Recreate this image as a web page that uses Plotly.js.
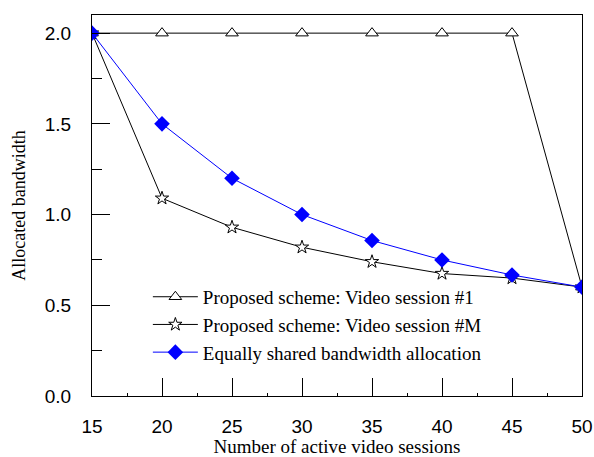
<!DOCTYPE html>
<html>
<head>
<meta charset="utf-8">
<script src="https://cdn.plot.ly/plotly-3.0.1.min.js"></script>
<style>html,body{margin:0;padding:0;background:#fff;}#chart{width:594px;height:457px;}</style>
</head>
<body>
<div id="chart"></div>
<script>
const sessions = [15, 20, 25, 30, 35, 40, 45, 50];
const session1 = [2.0, 2.0, 2.0, 2.0, 2.0, 2.0, 2.0, 0.6];
const sessionM = [2.0, 1.09, 0.93, 0.82, 0.74, 0.675, 0.65, 0.6];
const equalShare = [2.0, 1.5, 1.2, 1.0, 0.857, 0.75, 0.667, 0.6];
const seriesNames = [
  'Proposed scheme: Video session #1',
  'Proposed scheme: Video session #M',
  'Equally shared bandwidth allocation'
];
const xTicks = [15, 20, 25, 30, 35, 40, 45, 50];
const yTicks = [0.0, 0.5, 1.0, 1.5, 2.0];
const yTickLabels = ['0.0', '0.5', '1.0', '1.5', '2.0'];

const SERIF = "'Liberation Serif', 'Times New Roman', serif";
const SANS = "'Liberation Sans', Arial, sans-serif";

const traces = [
  {x: sessions, y: session1, name: seriesNames[0], mode: 'lines+markers',
   line: {color: '#000', width: 1},
   marker: {symbol: 'triangle-up', size: 11, color: '#fff', line: {width: 1, color: '#000'}}},
  {x: sessions, y: sessionM, name: seriesNames[1], mode: 'lines+markers',
   line: {color: '#000', width: 1},
   marker: {symbol: 'star', size: 10, color: '#fff', line: {width: 1, color: '#000'}}},
  {x: sessions, y: equalShare, name: seriesNames[2], mode: 'lines+markers',
   line: {color: '#0000ff', width: 1},
   marker: {symbol: 'diamond', size: 12, color: '#0000ff'}}
];

const layout = {
  width: 594, height: 457,
  margin: {l: 92, r: 12, t: 15, b: 61},
  paper_bgcolor: '#fff', plot_bgcolor: '#fff',
  showlegend: true,
  legend: {x: 0.114, y: 0.31, xanchor: 'left', yanchor: 'top', bgcolor: 'rgba(0,0,0,0)',
    font: {family: SERIF, size: 19, color: '#000'},
    itemwidth: 45, tracegroupgap: 0},
  xaxis: {
    range: [15, 50], tickmode: 'array', tickvals: xTicks, ticktext: xTicks.map(String),
    ticks: 'inside', ticklen: 18, tickwidth: 1, tickcolor: '#000',
    minor: {dtick: 2.5, ticks: 'inside', ticklen: 3, tickcolor: '#000', tickwidth: 1, tick0: 15},
    showgrid: false, zeroline: false, showline: true, linecolor: '#000', linewidth: 1, mirror: true,
    ticklabelstandoff: 13,
    tickfont: {family: SANS, size: 19, color: '#000'},
    title: {text: 'Number of active video sessions', standoff: 3,
      font: {family: SERIF, size: 19, color: '#000'}}
  },
  yaxis: {
    range: [0, 2.1], tickmode: 'array', tickvals: yTicks, ticktext: yTickLabels,
    ticks: 'inside', ticklen: 18, tickwidth: 1, tickcolor: '#000',
    minor: {dtick: 0.25, ticks: 'inside', ticklen: 10, tickcolor: '#000', tickwidth: 1, tick0: 0},
    showgrid: false, zeroline: false, showline: true, linecolor: '#000', linewidth: 1, mirror: true,
    ticklabelstandoff: 16,
    tickfont: {family: SANS, size: 19, color: '#000'},
    title: {text: 'Allocated bandwidth', standoff: 14,
      font: {family: SERIF, size: 18, color: '#000'}}
  }
};

Plotly.newPlot('chart', traces, layout, {displayModeBar: false, staticPlot: true});
</script>
</body>
</html>
